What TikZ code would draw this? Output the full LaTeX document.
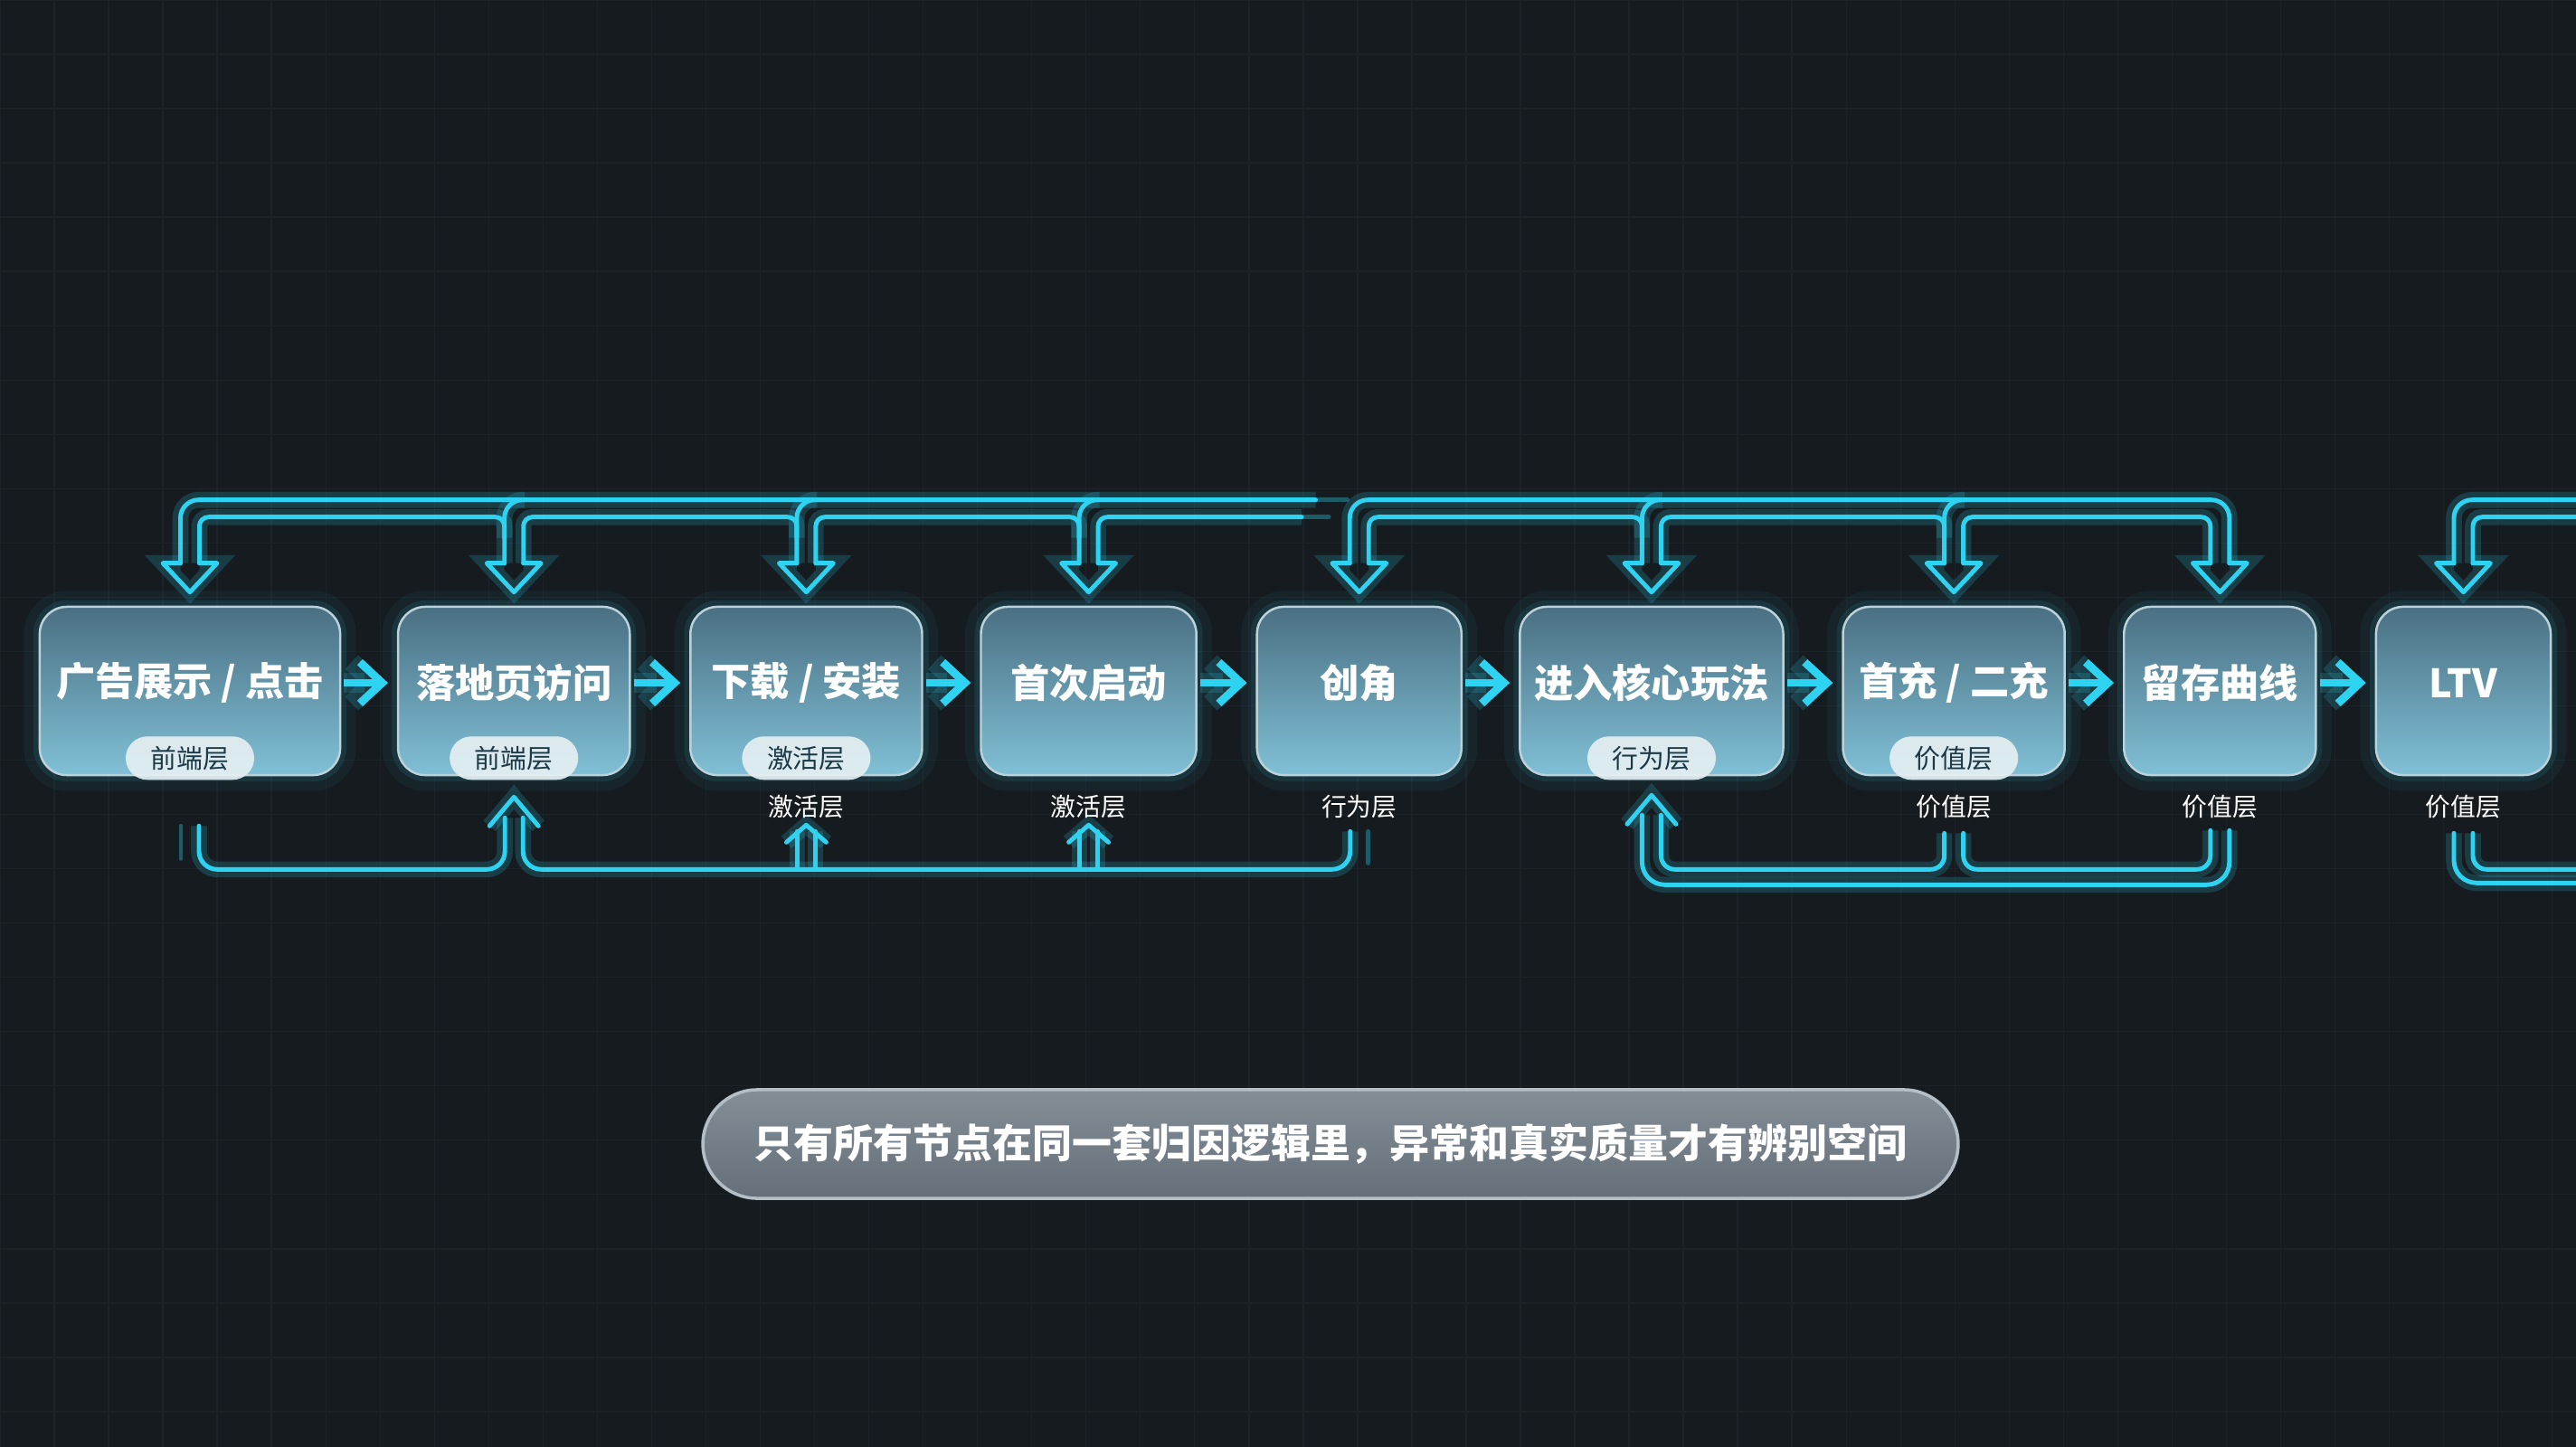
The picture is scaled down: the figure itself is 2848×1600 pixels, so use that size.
\documentclass[tikz,border=0pt]{standalone}
\usepackage{fontspec}
\usepackage{xcolor}
\usepackage{tikz}
\usetikzlibrary{arrows.meta}
\newfontfamily\cjk{Noto Sans CJK SC}
\definecolor{bgDark}{HTML}{161B20}
\definecolor{gridDark}{HTML}{1B2228}
\definecolor{pipeCyan}{HTML}{2FD3F2}
\definecolor{boxTop}{HTML}{4A6F82}
\definecolor{boxBottom}{HTML}{80C0D6}
\definecolor{boxEdge}{HTML}{BCD2DA}
\definecolor{pillFill}{HTML}{E4EFF2}
\definecolor{pillText}{HTML}{1D3946}
\definecolor{bannerTop}{HTML}{838E97}
\definecolor{bannerBottom}{HTML}{646F79}
\definecolor{bannerEdge}{HTML}{B4BEC6}
\tikzstyle{pipe} = [draw=pipeCyan, line width=1.4pt, line cap=round, line join=round,
    preaction={draw=pipeCyan, draw opacity=0.18, line width=5pt}]
\tikzstyle{pipeFade} = [draw=pipeCyan, line width=1.4pt, line cap=round, draw opacity=0.35]
\tikzstyle{flowArrow} = [draw=pipeCyan, line width=2.5pt, -{Straight Barb[length=7pt, width=13pt]},
    preaction={draw=pipeCyan, draw opacity=0.18, line width=6pt}]
\tikzstyle{stageBlock} = [draw=boxEdge, line width=0.7pt, rounded corners=3mm, top color=boxTop,
    bottom color=boxBottom, minimum height=1.86cm, inner sep=0pt,
    preaction={draw=pipeCyan, draw opacity=0.05, line width=10pt},
    preaction={draw=pipeCyan, draw opacity=0.10, line width=4pt}]
\tikzstyle{titleText} = [text=white, font=\cjk\bfseries\fontsize{12.3}{14}\selectfont]
\tikzstyle{layerPill} = [fill=pillFill, fill opacity=0.93, text opacity=1, text=pillText,
    rounded corners=2.4mm, minimum width=1.42cm, minimum height=0.48cm, inner sep=0pt,
    font=\cjk\fontsize{8.2}{9}\selectfont]
\tikzstyle{layerTag} = [text=white, font=\cjk\fontsize{7.9}{9}\selectfont]
\tikzstyle{bannerBox} = [draw=bannerEdge, line width=1pt, rounded corners=6mm, top color=bannerTop,
    bottom color=bannerBottom, minimum width=13.87cm, minimum height=1.2cm, text=white,
    font=\cjk\bfseries\fontsize{12.5}{15}\selectfont]

\begin{document}
\begin{tikzpicture}[x=0.01cm, y=-0.01cm]
      \useasboundingbox (0,0) rectangle (2848,1600);
      \fill [bgDark] (0,0) rectangle (2848,1600);
      \draw [gridDark, line width=0.4pt, step=0.6cm] (0,0) grid (2848,1600);

      % Place nodes
      \node [stageBlock, minimum width=3.32cm] (stage0) at (210,764) {};
      \node [stageBlock, minimum width=2.56cm, node distance=3.58cm, right of=stage0] (stage1) {};
      \node [stageBlock, minimum width=2.56cm, node distance=3.23cm, right of=stage1] (stage2) {};
      \node [stageBlock, minimum width=2.38cm, node distance=3.12cm, right of=stage2] (stage3) {};
      \node [stageBlock, minimum width=2.26cm, node distance=2.99cm, right of=stage3] (stage4) {};
      \node [stageBlock, minimum width=2.91cm, node distance=3.23cm, right of=stage4] (stage5) {};
      \node [stageBlock, minimum width=2.45cm, node distance=3.34cm, right of=stage5] (stage6) {};
      \node [stageBlock, minimum width=2.12cm, node distance=2.94cm, right of=stage6] (stage7) {};
      \node [stageBlock, minimum width=1.93cm, node distance=2.69cm, right of=stage7] (stage8) {};

      \node [titleText] (title0) at ([yshift=0.09cm]stage0.center) {广告展示 / 点击};
      \node [titleText] (title1) at ([yshift=0.09cm]stage1.center) {落地页访问};
      \node [titleText] (title2) at ([yshift=0.09cm]stage2.center) {下载 / 安装};
      \node [titleText] (title3) at ([yshift=0.09cm]stage3.center) {首次启动};
      \node [titleText] (title4) at ([yshift=0.09cm]stage4.center) {创角};
      \node [titleText] (title5) at ([yshift=0.09cm]stage5.center) {进入核心玩法};
      \node [titleText] (title6) at ([yshift=0.09cm]stage6.center) {首充 / 二充};
      \node [titleText] (title7) at ([yshift=0.09cm]stage7.center) {留存曲线};
      \node [titleText] (title8) at ([yshift=0.09cm]stage8.center) {LTV};

      \node [layerPill] (pill0) at ([yshift=0.2cm]stage0.south) {前端层};
      \node [layerPill] (pill1) at ([yshift=0.2cm]stage1.south) {前端层};
      \node [layerPill] (pill2) at ([yshift=0.2cm]stage2.south) {激活层};
      \node [layerPill] (pill5) at ([yshift=0.2cm]stage5.south) {行为层};
      \node [layerPill] (pill6) at ([yshift=0.2cm]stage6.south) {价值层};

      \node [layerTag, node distance=1.28cm, below of=stage2] (tag2) {激活层};
      \node [layerTag, node distance=1.28cm, below of=stage3] (tag3) {激活层};
      \node [layerTag, node distance=1.28cm, below of=stage4] (tag4) {行为层};
      \node [layerTag, node distance=1.28cm, below of=stage6] (tag6) {价值层};
      \node [layerTag, node distance=1.28cm, below of=stage7] (tag7) {价值层};
      \node [layerTag, node distance=1.28cm, below of=stage8] (tag8) {价值层};

      \node [bannerBox] (summary) at (1471,1265) {只有所有节点在同一套归因逻辑里，异常和真实质量才有辨别空间};

      % forward flow
      \path [flowArrow] ([shift={(3,-9)}]stage0.east) -- ([shift={(-10,-9)}]stage1.west);
      \path [flowArrow] ([shift={(3,-9)}]stage1.east) -- ([shift={(-10,-9)}]stage2.west);
      \path [flowArrow] ([shift={(3,-9)}]stage2.east) -- ([shift={(-10,-9)}]stage3.west);
      \path [flowArrow] ([shift={(3,-9)}]stage3.east) -- ([shift={(-10,-9)}]stage4.west);
      \path [flowArrow] ([shift={(3,-9)}]stage4.east) -- ([shift={(-10,-9)}]stage5.west);
      \path [flowArrow] ([shift={(3,-9)}]stage5.east) -- ([shift={(-10,-9)}]stage6.west);
      \path [flowArrow] ([shift={(3,-9)}]stage6.east) -- ([shift={(-10,-9)}]stage7.west);
      \path [flowArrow] ([shift={(3,-9)}]stage7.east) -- ([shift={(-10,-9)}]stage8.west);

      % top feedback pipes
      \coordinate (down0) at ([yshift=0.15cm]stage0.north);
      \coordinate (down1) at ([yshift=0.15cm]stage1.north);
      \coordinate (down2) at ([yshift=0.15cm]stage2.north);
      \coordinate (down3) at ([yshift=0.15cm]stage3.north);
      \coordinate (down4) at ([yshift=0.15cm]stage4.north);
      \coordinate (down5) at ([yshift=0.15cm]stage5.north);
      \coordinate (down6) at ([yshift=0.15cm]stage6.north);
      \coordinate (down7) at ([yshift=0.15cm]stage7.north);
      \coordinate (down8) at ([yshift=0.15cm]stage8.north);

      \path [pipe, rounded corners=2mm] ([shift={(-10.5,-32)}]down0) -- ++(0,-70) -- ++(1255,0) coordinate (fadeOuter);
      \path [pipeFade] (fadeOuter) -- ++(35,0);
      \path [pipe, rounded corners=1mm] ([shift={(10.5,-32)}]down0) |- ([shift={(-10.5,-83)}]down1) -- ([shift={(-10.5,-32)}]down1);
      \path [pipe, rounded corners=1mm] ([shift={(10.5,-32)}]down1) |- ([shift={(-10.5,-83)}]down2) -- ([shift={(-10.5,-32)}]down2);
      \path [pipe, rounded corners=1mm] ([shift={(10.5,-32)}]down2) |- ([shift={(-10.5,-83)}]down3) -- ([shift={(-10.5,-32)}]down3);
      \path [pipe, rounded corners=1mm] ([shift={(10.5,-32)}]down3) -- ++(0,-51) -- ++(225,0) coordinate (fadeInner);
      \path [pipeFade] (fadeInner) -- ++(30,0);

      \path [pipe, rounded corners=2mm] ([shift={(-10.5,-32)}]down4) |- ([shift={(10.5,-102)}]down7) -- ([shift={(10.5,-32)}]down7);
      \path [pipe, rounded corners=1mm] ([shift={(10.5,-32)}]down4) |- ([shift={(-10.5,-83)}]down5) -- ([shift={(-10.5,-32)}]down5);
      \path [pipe, rounded corners=1mm] ([shift={(10.5,-32)}]down5) |- ([shift={(-10.5,-83)}]down6) -- ([shift={(-10.5,-32)}]down6);
      \path [pipe, rounded corners=1mm] ([shift={(10.5,-32)}]down6) |- ([shift={(-10.5,-83)}]down7) -- ([shift={(-10.5,-32)}]down7);

      \path [pipe, rounded corners=2mm] ([shift={(-10.5,-32)}]down8) -- ++(0,-70) -- ++(150,0);
      \path [pipe, rounded corners=1mm] ([shift={(10.5,-32)}]down8) -- ++(0,-51) -- ++(130,0);

      % branch from the outer rail
      \path [pipe, rounded corners=2mm] ([shift={(12,-102)}]down1) -| ([shift={(-10.5,-60)}]down1);
      \path [pipe, rounded corners=2mm] ([shift={(12,-102)}]down2) -| ([shift={(-10.5,-60)}]down2);
      \path [pipe, rounded corners=2mm] ([shift={(12,-102)}]down3) -| ([shift={(-10.5,-60)}]down3);
      \path [pipe, rounded corners=2mm] ([shift={(12,-102)}]down5) -| ([shift={(-10.5,-60)}]down5);
      \path [pipe, rounded corners=2mm] ([shift={(12,-102)}]down6) -| ([shift={(-10.5,-60)}]down6);

      % hollow heads
      \path [pipe] ([shift={(-10.5,-32)}]down0) -- ++(-19.5,0) -- (down0) -- ++(30,-32) -- ++(-19.5,0);
      \path [pipe] ([shift={(-10.5,-32)}]down1) -- ++(-19.5,0) -- (down1) -- ++(30,-32) -- ++(-19.5,0);
      \path [pipe] ([shift={(-10.5,-32)}]down2) -- ++(-19.5,0) -- (down2) -- ++(30,-32) -- ++(-19.5,0);
      \path [pipe] ([shift={(-10.5,-32)}]down3) -- ++(-19.5,0) -- (down3) -- ++(30,-32) -- ++(-19.5,0);
      \path [pipe] ([shift={(-10.5,-32)}]down4) -- ++(-19.5,0) -- (down4) -- ++(30,-32) -- ++(-19.5,0);
      \path [pipe] ([shift={(-10.5,-32)}]down5) -- ++(-19.5,0) -- (down5) -- ++(30,-32) -- ++(-19.5,0);
      \path [pipe] ([shift={(-10.5,-32)}]down6) -- ++(-19.5,0) -- (down6) -- ++(30,-32) -- ++(-19.5,0);
      \path [pipe] ([shift={(-10.5,-32)}]down7) -- ++(-19.5,0) -- (down7) -- ++(30,-32) -- ++(-19.5,0);
      \path [pipe] ([shift={(-10.5,-32)}]down8) -- ++(-19.5,0) -- (down8) -- ++(30,-32) -- ++(-19.5,0);

      % bottom return pipes
      \coordinate (up1) at ([yshift=-0.23cm]stage1.south);
      \coordinate (up2) at ([yshift=-0.54cm]stage2.south);
      \coordinate (up3) at ([yshift=-0.54cm]stage3.south);
      \coordinate (up5) at ([yshift=-0.21cm]stage5.south);

      \path [pipeFade] ([shift={(-10,55)}]stage0.south) -- ++(0,36);
      \path [pipe, rounded corners=2mm] ([shift={(10,55)}]stage0.south) |- ([shift={(-10,80)}]up1) -- ([shift={(-10,23)}]up1);
      \path [pipe, rounded corners=2mm] ([shift={(10,23)}]up1) |- ([shift={(-10,103)}]stage4.south) -- ([shift={(-10,61)}]stage4.south);
      \path [pipeFade] ([shift={(10,61)}]stage4.south) -- ++(0,35);
      \path [pipe] ([shift={(-27,32)}]up1) -- (up1) -- ([shift={(27,32)}]up1);

      \path [pipe] ([shift={(-10,7)}]up2) -- ++(0,42);
      \path [pipe] ([shift={(10,7)}]up2) -- ++(0,42);
      \path [pipe] ([shift={(-22,19)}]up2) -- (up2) -- ([shift={(22,19)}]up2);
      \path [pipe] ([shift={(-10,7)}]up3) -- ++(0,42);
      \path [pipe] ([shift={(10,7)}]up3) -- ++(0,42);
      \path [pipe] ([shift={(-22,19)}]up3) -- (up3) -- ([shift={(22,19)}]up3);

      \path [pipe, rounded corners=2.5mm] ([shift={(-10.5,22)}]up5) |- ([shift={(10.5,120)}]stage7.south) -- ([shift={(10.5,60)}]stage7.south);
      \path [pipe, rounded corners=1.5mm] ([shift={(10.5,22)}]up5) |- ([shift={(-10.5,103)}]stage6.south) -- ([shift={(-10.5,63)}]stage6.south);
      \path [pipe, rounded corners=1.5mm] ([shift={(10.5,63)}]stage6.south) |- ([shift={(-10.5,103)}]stage7.south) -- ([shift={(-10.5,60)}]stage7.south);
      \path [pipe] ([shift={(-27,32)}]up5) -- (up5) -- ([shift={(27,32)}]up5);

      \path [pipe, rounded corners=2.5mm] ([shift={(-10.5,63)}]stage8.south) -- ++(0,55) -- ++(150,0);
      \path [pipe, rounded corners=1.5mm] ([shift={(10.5,63)}]stage8.south) -- ++(0,40) -- ++(130,0);

  \end{tikzpicture}
\end{document}
